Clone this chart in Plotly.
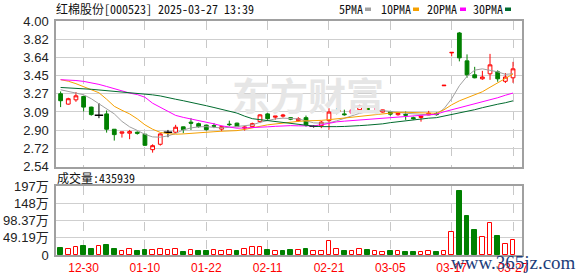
import plotly.graph_objects as go
import numpy as np

# ---------------- data ----------------
dates_ticks = ["12-30", "01-10", "01-22", "02-11", "02-21", "03-05", "03-17", "03-27"]
tick_idx = [3, 11, 19, 27, 35, 43, 51, 59]

opens = [3.27, 3.166, 3.209, 3.243, 3.136, 3.055, 3.068, 2.914, 2.874, 2.874,
         2.884, 2.864, 2.709, 2.763, 2.884, 2.884, 2.938, 2.985, 2.97, 2.955,
         2.95, 2.915, 2.965, 2.975, 2.925, 2.94, 2.99, 3.068, 3.035, 3.045,
         3.03, 3.0, 3.03, 2.944, 2.95, 3.0, 3.099, 3.068, 3.075, 3.11,
         3.136, 3.088, 3.086, 3.09, 3.06, 3.063, 3.03, 3.032, 3.058, 3.072,
         3.35, 3.68, 3.88, 3.60, 3.46, 3.42, 3.47, 3.49, 3.395, 3.43]
highs = [3.293, 3.23, 3.287, 3.245, 3.14, 3.176, 3.102, 2.914, 2.887, 2.907,
         2.892, 2.866, 2.763, 2.873, 2.907, 2.958, 2.94, 3.025, 2.98, 2.96,
         2.975, 2.95, 3.0, 2.98, 2.945, 2.98, 3.065, 3.075, 3.045, 3.068,
         3.035, 3.035, 3.051, 2.955, 2.998, 3.125, 3.126, 3.11, 3.11, 3.159,
         3.14, 3.139, 3.11, 3.10, 3.08, 3.092, 3.04, 3.045, 3.098, 3.085,
         3.355, 3.685, 3.89, 3.665, 3.54, 3.50, 3.67, 3.505, 3.478, 3.59]
lows = [3.136, 3.16, 3.189, 3.092, 3.05, 3.025, 2.88, 2.80, 2.83, 2.814,
        2.86, 2.746, 2.679, 2.75, 2.834, 2.874, 2.874, 2.907, 2.93, 2.90,
        2.925, 2.893, 2.945, 2.935, 2.90, 2.93, 2.975, 3.01, 3.01, 3.03,
        3.005, 2.99, 2.94, 2.93, 2.925, 2.91, 3.065, 3.05, 3.07, 3.092,
        3.09, 3.086, 3.08, 3.05, 3.05, 3.008, 3.01, 2.99, 3.055, 3.05,
        3.35, 3.645, 3.595, 3.43, 3.425, 3.41, 3.41, 3.39, 3.378, 3.38]
closes = [3.20, 3.22, 3.249, 3.136, 3.061, 3.055, 2.914, 2.86, 2.887, 2.89,
          2.874, 2.753, 2.749, 2.867, 2.884, 2.934, 2.91, 2.975, 2.94, 2.91,
          2.945, 2.94, 2.96, 2.94, 2.935, 2.97, 3.058, 3.02, 3.045, 3.055,
          3.015, 3.02, 2.958, 2.944, 2.985, 3.086, 3.099, 3.06, 3.108, 3.148,
          3.092, 3.098, 3.108, 3.065, 3.075, 3.055, 3.02, 3.045, 3.075, 3.06,
          3.355, 3.685, 3.63, 3.46, 3.43, 3.438, 3.56, 3.42, 3.438, 3.52]

ma5 = [3.31, 3.295, 3.28, 3.26, 3.22, 3.169, 3.124, 3.068, 2.993, 2.938,
       2.902, 2.862, 2.837, 2.834, 2.847, 2.872, 2.907, 2.927, 2.938, 2.94,
       2.933, 2.927, 2.933, 2.94, 2.948, 2.958, 2.983, 3.003, 3.018, 3.025,
       3.025, 3.018, 2.998, 2.978, 2.975, 2.978, 2.998, 3.025, 3.048, 3.074,
       3.089, 3.099, 3.101, 3.096, 3.084, 3.074, 3.068, 3.06, 3.058, 3.063,
       3.12, 3.22, 3.35, 3.445, 3.507, 3.52, 3.508, 3.49, 3.465, 3.471]
ma10 = [3.411, 3.396, 3.371, 3.34, 3.31, 3.28, 3.215, 3.144, 3.104, 3.068,
        3.018, 2.958, 2.914, 2.882, 2.87, 2.864, 2.867, 2.874, 2.882, 2.885,
        2.889, 2.894, 2.897, 2.9, 2.912, 2.924, 2.943, 2.958, 2.968, 2.975,
        2.983, 2.993, 2.998, 2.998, 3.003, 3.01, 3.018, 3.025, 3.031, 3.041,
        3.051, 3.06, 3.068, 3.076, 3.084, 3.084, 3.082, 3.079, 3.076, 3.074,
        3.109, 3.159, 3.199, 3.23, 3.255, 3.29, 3.335, 3.381, 3.426, 3.468]
ma20 = [3.411, 3.408, 3.403, 3.394, 3.381, 3.364, 3.343, 3.32, 3.295, 3.277,
        3.262, 3.235, 3.175, 3.135, 3.095, 3.053, 3.033, 3.018, 3.003, 2.988,
        2.968, 2.948, 2.933, 2.924, 2.927, 2.933, 2.935, 2.938, 2.943, 2.948,
        2.95, 2.948, 2.948, 2.948, 2.958, 2.973, 2.988, 2.995, 3.001, 3.006,
        3.01, 3.016, 3.02, 3.025, 3.033, 3.041, 3.045, 3.051, 3.056, 3.065,
        3.089, 3.109, 3.129, 3.144, 3.164, 3.186, 3.209, 3.23, 3.255, 3.277]
ma30 = [3.333, 3.33, 3.325, 3.32, 3.315, 3.308, 3.302, 3.295, 3.288, 3.281,
        3.275, 3.268, 3.259, 3.248, 3.235, 3.215, 3.2, 3.185, 3.168, 3.15,
        3.132, 3.112, 3.095, 3.076, 3.045, 3.02, 3.01, 3.0, 2.99, 2.982,
        2.975, 2.965, 2.955, 2.945, 2.94, 2.938, 2.94, 2.942, 2.943, 2.95,
        2.955, 2.96, 2.968, 2.98, 2.99, 3.0, 3.01, 3.02, 3.025, 3.03,
        3.045, 3.06, 3.08, 3.095, 3.11, 3.13, 3.15, 3.165, 3.18, 3.199]

# volume in 万手
volume = [20.7, 17.9, 22.7, 26.4, 17.9, 25.6, 29.2, 17.9, 12.2, 17.0,
          12.2, 15.0, 15.0, 17.9, 13.3, 17.9, 9.4, 15.0, 12.2, 12.2,
          15.0, 12.2, 15.0, 12.2, 17.0, 22.7, 22.7, 15.0, 12.2, 12.2,
          15.0, 15.0, 17.9, 12.2, 12.2, 40.6, 17.9, 12.2, 12.2, 17.9,
          15.0, 12.2, 9.4, 12.2, 12.2, 9.4, 9.4, 9.4, 12.2, 9.4,
          12.2, 66.2, 183.7, 109.9, 70.1, 51.1, 91.7, 54.8, 32.1, 43.5939]
vol_up = [0, 1, 1, 0, 0, 1, 0, 0, 1, 1, 0, 0, 1, 1, 1, 1, 0, 1, 0, 0,
          1, 1, 1, 0, 1, 1, 1, 0, 1, 0, 0, 1, 0, 1, 1, 1, 1, 0, 1, 1,
          0, 1, 1, 0, 1, 0, 0, 1, 1, 0, 1, 1, 0, 0, 0, 1, 1, 0, 1, 1]

price_ticks = ["2.54", "2.72", "2.90", "3.09", "3.27", "3.45", "3.64", "3.82", "4.00"]
price_min, price_max = 2.54, 4.00
vol_ticks = ["0", "49.19万", "98.37万", "148万", "197万"]
vol_max = 196.75

# ---------------- styling ----------------
RED = "#ff0000"
GREEN = "#008000"
W, H = 578, 276
ML, MR, MT, MB = 56, 56, 21, 21
PW, PH = W - ML - MR, H - MT - MB


def px_x(x):
    return (x - ML) / PW


def px_y(y):
    return (H - MB - y) / PH


idx = list(range(len(opens)))
up = [i for i in idx if closes[i] > opens[i]]
dn = [i for i in idx if closes[i] < opens[i]]
dj = [i for i in idx if closes[i] == opens[i]]

fig = go.Figure()

fig.add_trace(go.Candlestick(
    x=up, open=[opens[i] for i in up], high=[highs[i] for i in up],
    low=[lows[i] for i in up], close=[closes[i] for i in up],
    increasing=dict(line=dict(color=RED, width=1), fillcolor="white"),
    decreasing=dict(line=dict(color=RED, width=1), fillcolor="white"),
    whiskerwidth=0, showlegend=False, hoverinfo="skip", xaxis="x", yaxis="y"))
fig.add_trace(go.Candlestick(
    x=dn, open=[opens[i] for i in dn], high=[highs[i] for i in dn],
    low=[lows[i] for i in dn], close=[closes[i] for i in dn],
    increasing=dict(line=dict(color=GREEN, width=1), fillcolor=GREEN),
    decreasing=dict(line=dict(color=GREEN, width=1), fillcolor=GREEN),
    whiskerwidth=0, showlegend=False, hoverinfo="skip", xaxis="x", yaxis="y"))

# doji crosses
wx, wy = [], []
for i in dj:
    wx += [i, i, None]
    wy += [lows[i], highs[i], None]
fig.add_trace(go.Scatter(x=wx, y=wy, mode="lines", line=dict(color="black", width=1),
                         showlegend=False, hoverinfo="skip", xaxis="x", yaxis="y"))
fig.add_trace(go.Scatter(x=dj, y=[closes[i] for i in dj], mode="markers",
                         marker=dict(symbol="line-ew", size=6, line=dict(color="black", width=1.5)),
                         showlegend=False, hoverinfo="skip", xaxis="x", yaxis="y"))

ma_cols = {"5PMA": "#a0a0a0", "10PMA": "#f5a000", "20PMA": "#ff00ff", "30PMA": "#006b2e"}
for name, series in [("5PMA", ma5), ("10PMA", ma10), ("20PMA", ma20), ("30PMA", ma30)]:
    fig.add_trace(go.Scatter(x=idx, y=series, mode="lines",
                             line=dict(color=ma_cols[name], width=1),
                             showlegend=False, hoverinfo="skip", xaxis="x", yaxis="y"))

fig.add_trace(go.Bar(
    x=idx, y=volume, width=0.6,
    marker=dict(color=["white" if u else GREEN for u in vol_up],
                line=dict(color=[RED if u else GREEN for u in vol_up], width=1)),
    showlegend=False, hoverinfo="skip", xaxis="x2", yaxis="y2"))

xr = [-0.6, len(idx) - 1 + 1.17]
frame = dict(showline=True, mirror=True, linecolor="#a0a0a0", linewidth=1.5, automargin=False)
fig.update_layout(
    width=W, height=H, margin=dict(l=ML, r=MR, t=MT, b=MB, autoexpand=False),
    paper_bgcolor="white", plot_bgcolor="white",
    font=dict(family="Liberation Sans, Arial, sans-serif", size=12, color="#222"),
    xaxis=dict(domain=[0, 1], range=xr, anchor="y", tickvals=tick_idx, showticklabels=False,
               showgrid=True, gridcolor="#c8c8c8", griddash="dash", gridwidth=1,
               zeroline=False, rangeslider=dict(visible=False), ticks="", **frame),
    yaxis=dict(domain=[px_y(166.5), 1], range=[price_min, price_max], anchor="x",
               tickvals=list(np.linspace(price_min, price_max, len(price_ticks))),
               ticktext=price_ticks, showgrid=True, gridcolor="#cfcfcf", gridwidth=1,
               zeroline=False, ticks="", ticklabelstandoff=3,
               tickfont=dict(size=13, color="#222"), **frame),
    xaxis2=dict(domain=[0, 1], range=xr, anchor="y2", tickvals=tick_idx, ticktext=dates_ticks,
                showgrid=True, gridcolor="#c8c8c8", griddash="dash", gridwidth=1,
                zeroline=False, ticks="", tickfont=dict(size=12, color=RED),
                ticklabelstandoff=1, **frame),
    yaxis2=dict(domain=[0, px_y(186)], range=[0, vol_max], anchor="x2",
                tickvals=list(np.linspace(0, vol_max, len(vol_ticks))), ticktext=vol_ticks,
                showgrid=True, gridcolor="#cfcfcf", gridwidth=1, zeroline=False, ticks="",
                ticklabelstandoff=3,
                tickfont=dict(size=13, color="#222",
                              family="Liberation Sans, Noto Sans CJK SC, sans-serif"), **frame),
    bargap=0,
)

mono = "Noto Sans Mono CJK SC, Noto Sans CJK SC, monospace"
ann = []
ann.append(dict(text="<b>东方财富</b>", x=px_x(308), y=px_y(93), xref="paper", yref="paper",
                showarrow=False, font=dict(family="Noto Sans CJK SC", size=38, color="#e6e6e6"),
                xanchor="center", yanchor="middle"))
ann.append(dict(text="红棉股份[000523] 2025-03-27 13:39", x=px_x(54), y=px_y(9),
                xref="paper", yref="paper", showarrow=False, xanchor="left", yanchor="middle",
                font=dict(family=mono, size=12, color="#111")))
ann.append(dict(text=f"成交量:{int(round(volume[-1] * 10000))}", x=px_x(55), y=px_y(177),
                xref="paper", yref="paper", showarrow=False, xanchor="left", yanchor="middle",
                font=dict(family=mono, size=12, color="#111")))
legend_pos = [("5PMA", 337, 365), ("10PMA", 379, 413), ("20PMA", 425, 460), ("30PMA", 471, 505)]
shapes = []
for name, tx, sx in legend_pos:
    ann.append(dict(text=name, x=px_x(tx), y=px_y(9), xref="paper", yref="paper",
                    showarrow=False, xanchor="left", yanchor="middle",
                    font=dict(family=mono, size=12, color="#111")))
    shapes.append(dict(type="rect", xref="paper", yref="paper", x0=px_x(sx), x1=px_x(sx + 6),
                       y0=px_y(11), y1=px_y(7.5), fillcolor=ma_cols[name], line=dict(width=0)))
ann.append(dict(text="www.365jz.com", x=px_x(513), y=px_y(262), xref="paper", yref="paper",
                showarrow=False, xanchor="center", yanchor="middle",
                font=dict(family="Liberation Serif, serif", size=19, color="#1c3d7a")))
fig.update_layout(annotations=ann, shapes=shapes)

fig.write_html("out.html")
